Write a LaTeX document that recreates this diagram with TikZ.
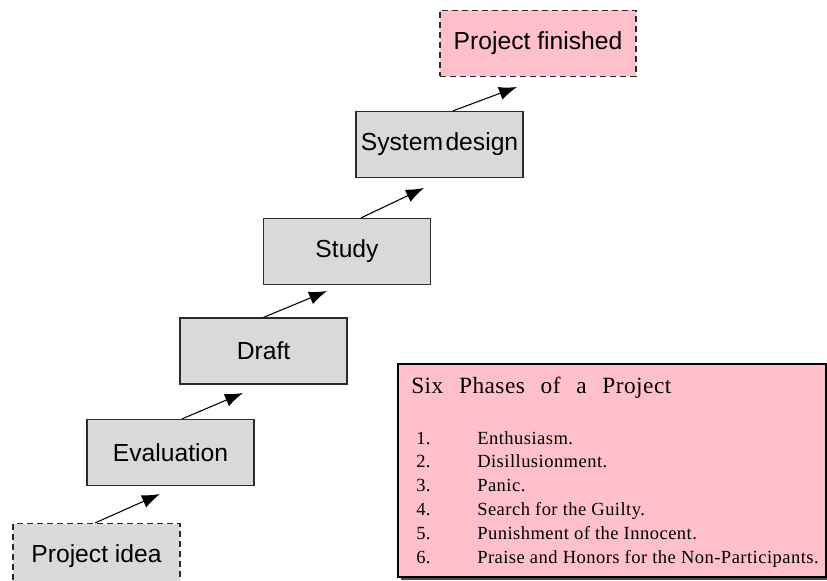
\documentclass[tikz,border=0pt]{standalone}
\usepackage{fontspec}
\setmainfont{Liberation Sans}
\newfontfamily\boxfont{Liberation Sans}
\newfontfamily\titlefont[LetterSpace=2,WordSpace=2.5]{Liberation Serif}
\newfontfamily\listfont[LetterSpace=2.5]{Liberation Serif}
\usetikzlibrary{arrows.meta,shadows}
\definecolor{phasegray}{HTML}{D9D9D9}
\definecolor{phasepink}{HTML}{FFC0CB}
\definecolor{edge}{HTML}{2B2B2B}
\tikzset{
  phasebox/.style={draw=edge, line width=0.9pt, fill=phasegray, rectangle,
    inner sep=0pt, minimum width=125.25pt, minimum height=49.5pt,
    font=\boxfont\fontsize{18.5pt}{21pt}\selectfont},
  milestone/.style={phasebox, dash pattern=on 4.5pt off 3pt},
  stepline/.style={draw=black, line width=0.8pt,
    -{Latex[length=13.5pt,width=10pt]}},
  legendbox/.style={draw=black, line width=1.1pt, fill=phasepink, rectangle,
    inner sep=0pt, minimum width=321pt, minimum height=159.75pt,
    drop shadow={shadow xshift=2.2pt, shadow yshift=-2.2pt,
      fill=black!70, opacity=1}},
  titletext/.style={inner sep=0pt, anchor=base west,
    font=\titlefont\fontsize{17.5pt}{20pt}\selectfont},
  listtext/.style={inner sep=0pt, anchor=base west,
    font=\listfont\fontsize{13.9pt}{16pt}\selectfont}
}
\begin{document}
\begin{tikzpicture}[x=0.75pt,y=-0.75pt]
  \useasboundingbox (0,0) rectangle (827,581);

  % staircase of project phases
  \node[milestone] (idea)     at (96.5,556.5) {Project idea};
  \node[phasebox]  (eval)     at (170.5,452.5) {Evaluation};
  \node[phasebox]  (draft)    at (263.5,351) {Draft};
  \node[phasebox]  (study)    at (347,251.5) {Study};
  \node[phasebox]  (sysdes)   at (439.5,144.5) {System\hspace{0.1em}design};
  \node[milestone, fill=phasepink, minimum width=147pt] (finished)
       at (538,43.5) {Project finished};

  % arrow tips, just below the next step
  \coordinate (t1) at (160,494);
  \coordinate (t2) at (243,393);
  \coordinate (t3) at (327,291);
  \coordinate (t4) at (424,188);
  \coordinate (t5) at (517,87);

  \draw[stepline] ([xshift=-1pt]idea.north) -- (t1);
  \draw[stepline] ([xshift=8.6pt]eval.north) -- (t2);
  \draw[stepline] (draft.north) -- (t3);
  \draw[stepline] ([xshift=10.5pt]study.north) -- (t4);
  \draw[stepline] ([xshift=10pt]sysdes.north) -- (t5);

  % legend
  \node[legendbox] (legend) at (612,470.5) {};
  \node[titletext] (title) at (411,393) {Six Phases of a Project};
  \foreach \i/\txt [evaluate=\i as \y using 444+23.8*(\i-1)] in
    {1/Enthusiasm.,
     2/Disillusionment.,
     3/Panic.,
     4/Search for the Guilty.,
     5/Punishment of the Innocent.,
     6/Praise and Honors for the Non-Participants.}{
    \node[listtext] (num\i) at (416,\y) {\i.};
    \node[listtext] (item\i) at (477,\y) {\txt};
  }
\end{tikzpicture}
\end{document}
